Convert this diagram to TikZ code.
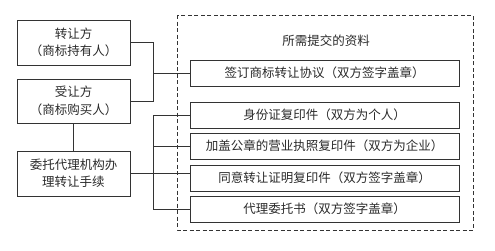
\documentclass[tikz,border=0pt]{standalone}
\usepackage{fontspec}
\setmainfont{Noto Sans CJK SC}
\definecolor{linec}{HTML}{333333}
\definecolor{textc}{HTML}{2A2A2A}
\begin{document}
\begin{tikzpicture}[x=1pt,y=-1pt,
  box/.style={draw=linec, line width=0.8pt, inner sep=0pt, align=center, text=textc,
    font=\fontsize{12.5}{17.5}\selectfont},
  lbox/.style={box, minimum width=113pt},
  rbox/.style={box, minimum width=269pt, minimum height=26pt},
  conn/.style={draw=linec, line width=0.8pt}]
\useasboundingbox (0,0) rectangle (495,250);
\draw[linec, line width=0.8pt, dash pattern=on 4pt off 2.5pt] (177,15) rectangle (473,230);
\node[text=textc, font=\fontsize{12.5}{15}\selectfont] (title) at (326,41) {所需提交的资料};
\node[lbox, minimum height=45pt] (b1) at (73.5,42.5) {转让方\\（商标持有人）};
\node[lbox, minimum height=44pt] (b2) at (73.5,101) {受让方\\（商标购买人）};
\node[lbox, minimum height=45pt] (b3) at (73.5,173.5) {委托代理机构办\\理转让手续};
\node[rbox] (r1) at (324.5,73) {签订商标转让协议（双方签字盖章）};
\node[rbox] (r2) at (324.5,115) {身份证复印件（双方为个人）};
\node[rbox] (r3) at (324.5,146) {加盖公章的营业执照复印件（双方为企业）};
\node[rbox] (r4) at (324.5,178) {同意转让证明复印件（双方签字盖章）};
\node[rbox] (r5) at (324.5,209) {代理委托书（双方签字盖章）};
\coordinate (j) at (153,0);
\draw[conn] (b1.east) -- (b1.east -| j) -- (b2.east -| j) -- (b2.east);
\draw[conn] (j |- r1.west) -- (r1.west);
\draw[conn] (b2.south) -- (b3.north);
\draw[conn] (b3.east) -- (b3.east -| r4.west);
\draw[conn] (r2.west) -- (r2.west -| j) -- (r5.west -| j) -- (r5.west);
\draw[conn] (r3.west) -- (r3.west -| j);
\end{tikzpicture}
\end{document}
